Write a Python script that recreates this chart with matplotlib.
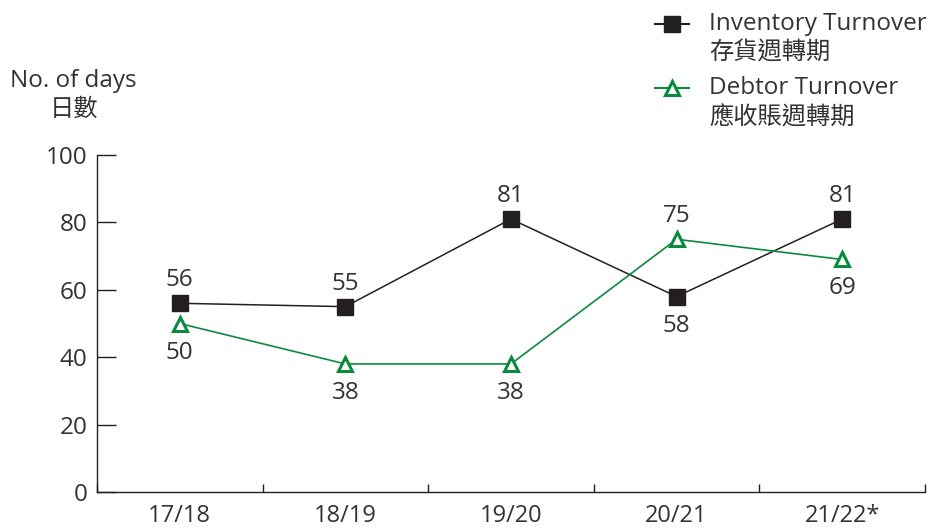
import matplotlib.pyplot as plt
from matplotlib.lines import Line2D

years = ["17/18", "18/19", "19/20", "20/21", "21/22*"]
inventory = [56, 55, 81, 58, 81]
debtor = [50, 38, 38, 75, 69]
# +1 = label above the point, -1 = below
inv_pos = [1, 1, 1, -1, 1]
deb_pos = [-1, -1, -1, 1, -1]

BLACK = "#231f20"
GREEN = "#0a8a3c"
TEXT = "#333333"

plt.rcParams['font.family'] = ['Open Sans', 'Noto Sans CJK TC', 'DejaVu Sans']

fig = plt.figure(figsize=(9.32, 5.32), dpi=100)
ax = fig.add_axes([0.104, 0.0752, 0.8885, 0.6334])

x = list(range(len(years)))
ax.plot(x, inventory, color=BLACK, lw=1.1, marker='s', ms=11,
        mfc=BLACK, mec=BLACK, zorder=3)
ax.plot(x, debtor, color=GREEN, lw=1.2, marker='^', ms=10,
        mfc='white', mec=GREEN, mew=2.2, zorder=3)

for xi, v, p in zip(x, inventory, inv_pos):
    ax.annotate(str(v), (xi, v), xytext=(0, 23 if p > 0 else -29),
                textcoords='offset pixels', ha='center', va='center',
                fontsize=17.5, color=TEXT)
for xi, v, p in zip(x, debtor, deb_pos):
    ax.annotate(str(v), (xi, v), xytext=(0, 23 if p > 0 else -29),
                textcoords='offset pixels', ha='center', va='center',
                fontsize=17.5, color=TEXT)

ax.set_xlim(-0.5, len(years) - 0.5)
ax.set_ylim(0, 100)
ax.set_yticks(range(0, 101, 20))
ax.tick_params(axis='y', direction='in', length=14, width=1, color=BLACK,
               labelsize=17.5, labelcolor=TEXT, pad=7)
ax.set_xticks(x)
ax.set_xticklabels(years)
ax.tick_params(axis='x', which='major', length=0, labelsize=17,
               labelcolor=TEXT, pad=9)
ax.set_xticks([i - 0.5 for i in range(len(years) + 1)], minor=True)
ax.tick_params(axis='x', which='minor', direction='in', length=6,
               width=1, color=BLACK)
for s in ['top', 'right']:
    ax.spines[s].set_visible(False)
for s in ['left', 'bottom']:
    ax.spines[s].set_color(BLACK)
    ax.spines[s].set_linewidth(1)

fig.text(0.079, 0.821, "No. of days\n日數", ha='center', va='center',
         fontsize=17.5, color=TEXT, linespacing=1.25)

# legend
fig.add_artist(Line2D([0.703, 0.739], [0.955, 0.955], color=BLACK, lw=1.5,
                      transform=fig.transFigure))
fig.add_artist(Line2D([0.721], [0.955], color=BLACK, marker='s', ms=11,
                      mfc=BLACK, mec=BLACK, transform=fig.transFigure))
fig.add_artist(Line2D([0.703, 0.739], [0.834, 0.834], color=GREEN, lw=1.5,
                      transform=fig.transFigure))
fig.add_artist(Line2D([0.721], [0.834], color=GREEN, marker='^', ms=10,
                      mfc='white', mec=GREEN, mew=2.2,
                      transform=fig.transFigure))
fig.text(0.761, 0.955, "Inventory Turnover", ha='left', va='center',
         fontsize=17.5, color=TEXT)
fig.text(0.761, 0.899, "存貨週轉期", ha='left', va='center',
         fontsize=17.5, color=TEXT)
fig.text(0.761, 0.834, "Debtor Turnover", ha='left', va='center',
         fontsize=17.5, color=TEXT)
fig.text(0.761, 0.777, "應收賬週轉期", ha='left', va='center',
         fontsize=17.5, color=TEXT)

fig.savefig("out.png", dpi=100)
